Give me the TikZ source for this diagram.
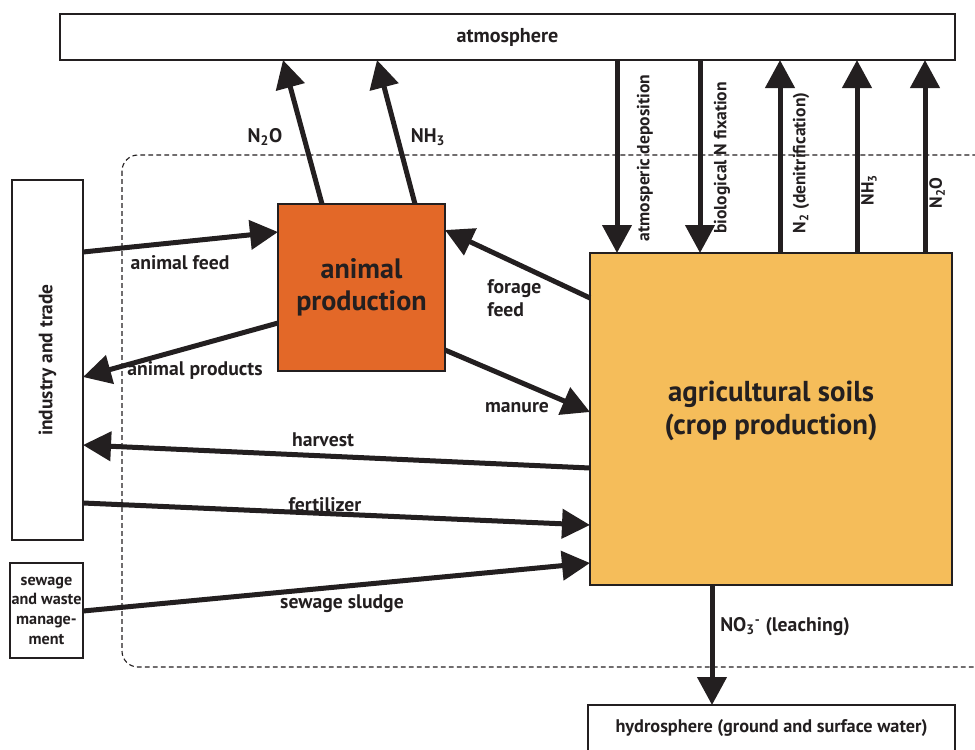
\documentclass[tikz,border=0pt]{standalone}
\usepackage{fontspec}
\setmainfont{PT Sans}
\usetikzlibrary{arrows.meta}
\definecolor{animorange}{RGB}{227,104,40}
\definecolor{soilyellow}{RGB}{245,189,90}
\definecolor{inkdark}{RGB}{35,31,32}

\begin{document}
\begin{tikzpicture}[x=0.25mm, y=-0.25mm,
  sz/.style 2 args={minimum width=#1*0.25mm, minimum height=#2*0.25mm},
  box/.style={draw=inkdark, line width=0.8pt, fill=white, inner sep=0pt, outer sep=0pt, align=center, text=inkdark},
  flow/.style={draw=inkdark, line width=1.25mm, -{Triangle[length=7mm, width=7.2mm]}},
  lbl/.style={text=inkdark, inner sep=0pt, align=center, font=\fontsize{14}{16}\selectfont\bfseries},
  vlbl/.style={lbl, rotate=90, font=\fontsize{12.5}{14}\selectfont\bfseries}]

  \useasboundingbox (0,0) rectangle (975,749);

  % system boundary
  \draw[inkdark, line width=0.8pt, dash pattern=on 1.2mm off 0.8mm, rounded corners=4mm] (122,155) rectangle (992,667);

  % compartments
  \node[box, sz={895}{46}, font=\fontsize{14.3}{16}\selectfont\bfseries] (atm) at (507.5,37) {atmosphere};
  \node[box, sz={71}{360}] (ind) at (47.5,360) {};
  \node[lbl, rotate=90, font=\fontsize{13.8}{15}\selectfont\bfseries] (ind_txt) at (ind.center) {industry and trade};
  \node[box, sz={73}{95}, font=\fontsize{11.5}{14}\selectfont\bfseries] (sew) at (46.5,610.5) {sewage\\and waste\\manage-\\ment};
  \node[box, sz={167}{167}, fill=animorange, font=\fontsize{20}{22.7}\selectfont\bfseries] (anim) at (361.5,287.5) {animal\\production};
  \node[box, sz={362}{332}, fill=soilyellow, text depth=23*0.25mm, font=\fontsize{20.5}{23.5}\selectfont\bfseries] (soil) at (771,419) {agricultural soils\\(crop production)};
  \node[box, sz={367}{56}, text depth=14*0.25mm, font=\fontsize{13}{15}\selectfont\bfseries] (hyd) at (771.5,733) {hydrosphere (ground and surface water)};

  % emissions from animal production
  \draw[flow] (322,0 |- anim.north) -- (283,0 |- atm.south);
  \draw[flow] (415,0 |- anim.north) -- (377,0 |- atm.south);
  \node[lbl] (l_n2o_a) at (265,137) {N\textsubscript{2}O};
  \node[lbl] (l_nh3_a) at (428,137) {NH\textsubscript{3}};

  % exchange soils - atmosphere
  \foreach \x in {617, 700}
    \draw[flow] (\x,0 |- atm.south) -- (\x,0 |- soil.north);
  \foreach \x in {780, 857, 925}
    \draw[flow] (\x,0 |- soil.north) -- (\x,0 |- atm.south);
  \node[vlbl] (l_dep) at (645,158) {atmosperic deposition};
  \node[vlbl] (l_fix) at (722,158) {biological N fixation};
  \node[vlbl] (l_den) at (801,163) {N\textsubscript{2} (denitrification)};
  \node[vlbl] (l_nh3_s) at (869,190) {NH\textsubscript{3}};
  \node[vlbl] (l_n2o_s) at (937,193) {N\textsubscript{2}O};

  % flows between compartments
  \draw[flow] (ind.east |- 0,252) -- (anim.west |- 0,232);
  \node[lbl] (l_feed) at (180,263) {animal feed};
  \draw[flow] (anim.west |- 0,323) -- (ind.east |- 0,377);
  \node[lbl] (l_prod) at (195,370) {animal products};
  \draw[flow] (soil.west |- 0,298) -- (anim.east |- 0,230);
  \node[lbl, align=left, anchor=west] (l_forage) at (487,298) {forage\\feed};
  \draw[flow] (anim.east |- 0,350) -- (soil.west |- 0,412);
  \node[lbl] (l_manure) at (517,408) {manure};
  \draw[flow] (soil.west |- 0,468) -- (ind.east |- 0,445);
  \node[lbl] (l_harvest) at (323,440) {harvest};
  \draw[flow] (ind.east |- 0,503) -- (soil.west |- 0,525);
  \node[lbl] (l_fert) at (325,505) {fertilizer};
  \draw[flow] (sew.east |- 0,611) -- (soil.west |- 0,563);
  \node[lbl] (l_sludge) at (342,604) {sewage sludge};

  % leaching
  \draw[flow] (712,0 |- soil.south) -- (712,0 |- hyd.north);
  \node[lbl] (l_leach) at (785,627) {NO\textsubscript{3}\textsuperscript{-} (leaching)};

\end{tikzpicture}
\end{document}
